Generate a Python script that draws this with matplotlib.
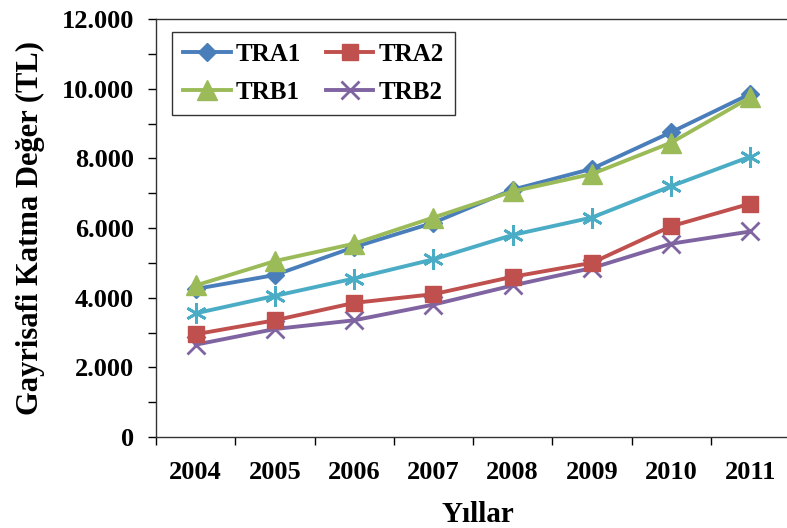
import matplotlib
matplotlib.use("Agg")
from matplotlib import pyplot as plt
from matplotlib.ticker import MultipleLocator, FuncFormatter
import numpy as np

years = ['2004', '2005', '2006', '2007', '2008', '2009', '2010', '2011']
tra1 = [4250, 4650, 5450, 6150, 7100, 7700, 8750, 9850]
tra2 = [2950, 3350, 3850, 4100, 4600, 5000, 6050, 6700]
trb1 = [4350, 5050, 5550, 6300, 7050, 7550, 8450, 9750]
trb2 = [2650, 3100, 3350, 3800, 4350, 4850, 5550, 5900]
other = [3550, 4050, 4550, 5100, 5800, 6300, 7200, 8050]  # unlabeled cyan series

plt.rcParams['font.family'] = ['Liberation Serif', 'DejaVu Serif']
plt.rcParams['font.weight'] = 'bold'

fig = plt.figure(figsize=(7.87, 5.28), dpi=100)
ax = fig.add_axes([156/787, 1 - 437/528, 634/787, 418/528])

x = np.arange(len(years))
lw = 2.8
ax.plot(x, other, color='#4BACC6', lw=lw, marker=(6, 2, 0), ms=15, mew=2.0, zorder=2)
l1, = ax.plot(x, tra1, color='#4A7EBB', lw=lw, marker='D', ms=9, label='TRA1', zorder=3)
l2, = ax.plot(x, tra2, color='#C0504D', lw=lw, marker='s', ms=12, label='TRA2', zorder=3)
l3, = ax.plot(x, trb1, color='#9BBB59', lw=lw, marker='^', ms=14, label='TRB1', zorder=3)
l4, = ax.plot(x, trb2, color='#8064A2', lw=lw, marker='x', ms=13, mew=2.0, label='TRB2', zorder=2)

ax.set_xlim(-0.5, len(years) - 0.5)
ax.set_ylim(0, 12000)
ax.set_xticks(np.arange(-0.5, len(years), 1.0))
ax.set_xticklabels([])
ax.set_xticks(x, minor=True)
ax.set_xticklabels(years, minor=True)
ax.tick_params(axis='x', which='major', length=6, width=1, direction='out')
ax.tick_params(axis='x', which='minor', length=0, pad=17, labelsize=19)

ax.yaxis.set_major_locator(MultipleLocator(2000))
ax.yaxis.set_minor_locator(MultipleLocator(1000))
ax.yaxis.set_major_formatter(FuncFormatter(lambda v, p: f'{int(v):,}'.replace(',', '.')))
ax.tick_params(axis='y', which='both', length=6, width=1, direction='out', labelsize=19, pad=10)

for s in ax.spines.values():
    s.set_linewidth(1)
    s.set_color('#333333')

ax.set_ylabel('Gayrisafi Katma Değer (TL)', fontsize=22, fontweight='bold', labelpad=12)
ax.set_xlabel('Yıllar', fontsize=21, fontweight='bold')
ax.xaxis.set_label_coords((478 - 156) / 634, -(515 - 437) / 418)
ax.xaxis.label.set_verticalalignment('center')

leg = ax.legend(handles=[l1, l3, l2, l4], ncol=2, loc='upper left',
                bbox_to_anchor=(0.025, 0.97), borderaxespad=0, fontsize=18,
                frameon=True, fancybox=False, edgecolor='black',
                handlelength=1.9, handletextpad=0.2, columnspacing=1.0,
                labelspacing=0.6, borderpad=0.45)
leg.get_frame().set_linewidth(1.0)

fig.savefig('out.png', dpi=100)
